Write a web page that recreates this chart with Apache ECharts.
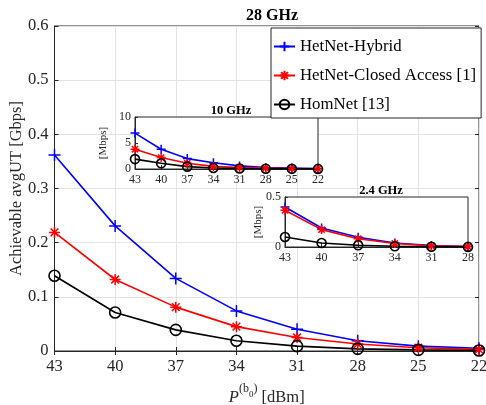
<!DOCTYPE html>
<html><head><meta charset="utf-8">
<script src="https://cdn.jsdelivr.net/npm/echarts@6/dist/echarts.min.js"></script>
<style>html,body{margin:0;padding:0;background:#fff}#c{width:486px;height:405px}</style>
</head><body><div id="c"></div>
<script>
const catMain = ['43','40','37','34','31','28','25','22'];
const hybrid28 = [0.362,0.231,0.134,0.074,0.040,0.019,0.009,0.005];
const closed28 = [0.219,0.132,0.081,0.045,0.025,0.013,0.006,0.003];
const hom28 = [0.139,0.071,0.039,0.019,0.009,0.004,0.002,0.001];
const cat10 = ['43','40','37','34','31','28','25','22'];
const hybrid10 = [6.9,3.8,2.0,1.2,0.6,0.3,0.2,0.1];
const closed10 = [3.8,2.2,1.1,0.5,0.3,0.2,0.1,0.05];
const hom10 = [1.9,1.1,0.45,0.2,0.1,0.05,0.03,0.02];
const cat24 = ['43','40','37','34','31','28'];
const hybrid24 = [0.40,0.19,0.097,0.04,0.015,0.005];
const closed24 = [0.367,0.174,0.083,0.035,0.012,0.004];
const hom24 = [0.10,0.04,0.017,0.007,0.003,0.001];
const names = ['HetNet-Hybrid','HetNet-Closed Access [1]','HomNet [13]'];

const F = 'Liberation Serif';
const AX = '#262626';
const PLUS = 'path://M0,-1L0,1M-1,0L1,0';
const STAR = 'path://M0,-1L0,1M-1,0L1,0M-0.7,-0.7L0.7,0.7M-0.7,0.7L0.7,-0.7';
const colors = ['#0000ff','#ff0000','#000000'];
const symbols = [PLUS, STAR, 'circle'];

function mkSeries(name, data, idx, xi, yi, size, z) {
  const c = colors[idx];
  return {
    name: name, type: 'line', data: data, xAxisIndex: xi, yAxisIndex: yi,
    symbol: symbols[idx], symbolSize: size, showSymbol: true, z: z,
    lineStyle: {color: c, width: 1.6},
    itemStyle: idx === 2 ? {color: 'rgba(255,255,255,0)', borderColor: c, borderWidth: 1.6}
                         : {color: c, borderColor: c, borderWidth: 1.5},
    emphasis: {disabled: true}, silent: true, animation: false
  };
}

function catAxis(data, gi, fs, z, margin) {
  return {
    type: 'category', data: data, gridIndex: gi, boundaryGap: false, z: z,
    axisLine: {show: true, lineStyle: {color: AX, width: 1}},
    axisTick: {show: true, inside: true, length: 4, interval: 0, lineStyle: {color: AX}},
    axisLabel: {interval: 0, color: AX, fontFamily: F, fontSize: fs, margin: margin},
    splitLine: {show: gi === 0, interval: 0, lineStyle: {color: '#e3e3e3', width: 1}}
  };
}

const chart = echarts.init(document.getElementById('c'), null, {renderer: 'canvas'});
chart.setOption({
  animation: false,
  backgroundColor: '#fff',
  textStyle: {fontFamily: F},
  title: [
    {text: '28 GHz', left: 267, top: 3, textAlign: 'center',
     textStyle: {fontFamily: F, fontWeight: 'bold', fontSize: 16, color: '#000'}},
    {text: '10 GHz', left: 226, top: 99, textAlign: 'center', z: 12,
     textStyle: {fontFamily: F, fontWeight: 'bold', fontSize: 12.5, color: '#000'}},
    {text: '2.4 GHz', left: 376, top: 179, textAlign: 'center', z: 12,
     textStyle: {fontFamily: F, fontWeight: 'bold', fontSize: 12.5, color: '#000'}}
  ],
  legend: {
    data: names, orient: 'vertical', left: 271, top: 28, z: 20,
    backgroundColor: '#fff', borderColor: AX, borderWidth: 1,
    padding: [10, 5, 5, 2], itemWidth: 21, itemHeight: 12, itemGap: 12,
    textStyle: {fontFamily: F, fontSize: 16.8, color: '#000'},
    selectedMode: false
  },
  grid: [
    {left: 54.5, top: 26, right: 7, bottom: 54, show: true, borderColor: AX, borderWidth: 1, z: 0, outerBoundsMode: 'none', containLabel: false},
    {left: 135, top: 117, width: 183, height: 52, show: true, backgroundColor: '#fff', borderColor: AX, borderWidth: 1, z: 10, outerBoundsMode: 'none', containLabel: false},
    {left: 285, top: 197, width: 183, height: 50, show: true, backgroundColor: '#fff', borderColor: AX, borderWidth: 1, z: 10, outerBoundsMode: 'none', containLabel: false}
  ],
  xAxis: [
    Object.assign(catAxis(catMain, 0, 16.5, 0, 7), {
      name: '{i|P}{s|(b}{b|0}{s|)}{n| [dBm]}', nameLocation: 'middle', nameGap: 31.5,
      nameMoveOverlap: false,
      nameTextStyle: {fontFamily: F, fontSize: 16.5, color: AX,
        rich: {
          i: {fontFamily: F, fontStyle: 'italic', fontSize: 16.5, color: AX, verticalAlign: 'bottom', lineHeight: 24},
          s: {fontFamily: F, fontSize: 12, color: AX, verticalAlign: 'top', padding: [0,0,0,0]},
          b: {fontFamily: F, fontSize: 9, color: AX, verticalAlign: 'top', padding: [8,0,0,0]},
          n: {fontFamily: F, fontSize: 16.5, color: AX, verticalAlign: 'bottom'}
        }}
    }),
    catAxis(cat10, 1, 12, 11, 5),
    catAxis(cat24, 2, 12, 11, 5),
    {type: 'category', data: catMain, gridIndex: 0, boundaryGap: false, position: 'top',
     axisLine: {show: false}, axisLabel: {show: false}, splitLine: {show: false},
     axisTick: {show: true, inside: true, length: 4, interval: 0, lineStyle: {color: AX}}}
  ],
  yAxis: [
    {type: 'value', gridIndex: 0, min: 0, max: 0.6, interval: 0.1, z: 0,
     name: 'Achievable avgUT [Gbps]', nameLocation: 'middle', nameGap: 29,
     nameMoveOverlap: false,
     nameTextStyle: {fontFamily: F, fontSize: 16.5, color: AX},
     axisLine: {show: true, lineStyle: {color: AX}},
     axisTick: {show: true, inside: true, length: 4, lineStyle: {color: AX}},
     axisLabel: {color: AX, fontFamily: F, fontSize: 16.5, margin: 6,
       formatter: v => v === 0 ? '0' : v.toFixed(1)},
     splitLine: {show: true, lineStyle: {color: '#e3e3e3', width: 1}}},
    {type: 'value', gridIndex: 1, min: 0, max: 10, interval: 5, z: 11,
     name: '[Mbps]', nameLocation: 'middle', nameGap: 26, nameMoveOverlap: false,
     nameTextStyle: {fontFamily: F, fontSize: 11, color: AX},
     axisLine: {show: true, lineStyle: {color: AX}},
     axisTick: {show: true, inside: true, length: 3, lineStyle: {color: AX}},
     axisLabel: {color: AX, fontFamily: F, fontSize: 12, margin: 4},
     splitLine: {show: false}},
    {type: 'value', gridIndex: 2, min: 0, max: 0.5, interval: 0.5, z: 11,
     name: '[Mbps]', nameLocation: 'middle', nameGap: 21, nameMoveOverlap: false,
     nameTextStyle: {fontFamily: F, fontSize: 11, color: AX},
     axisLine: {show: true, lineStyle: {color: AX}},
     axisTick: {show: true, inside: true, length: 3, lineStyle: {color: AX}},
     axisLabel: {color: AX, fontFamily: F, fontSize: 12, margin: 4,
       formatter: v => v === 0 ? '0' : String(v)},
     splitLine: {show: false}},
    {type: 'value', gridIndex: 0, min: 0, max: 0.6, interval: 0.1, position: 'right',
     axisLine: {show: false}, axisLabel: {show: false}, splitLine: {show: false},
     axisTick: {show: true, inside: true, length: 4, lineStyle: {color: AX}}}
  ],
  series: [
    mkSeries(names[0], hybrid28, 0, 0, 0, 12, 3),
    mkSeries(names[1], closed28, 1, 0, 0, 11, 3),
    mkSeries(names[2], hom28, 2, 0, 0, 11, 3),
    mkSeries(names[0], hybrid10, 0, 1, 1, 9, 12),
    mkSeries(names[1], closed10, 1, 1, 1, 9, 12),
    mkSeries(names[2], hom10, 2, 1, 1, 9, 12),
    mkSeries(names[0], hybrid24, 0, 2, 2, 9, 12),
    mkSeries(names[1], closed24, 1, 2, 2, 9, 12),
    mkSeries(names[2], hom24, 2, 2, 2, 9, 12)
  ]
});
</script></body></html>
